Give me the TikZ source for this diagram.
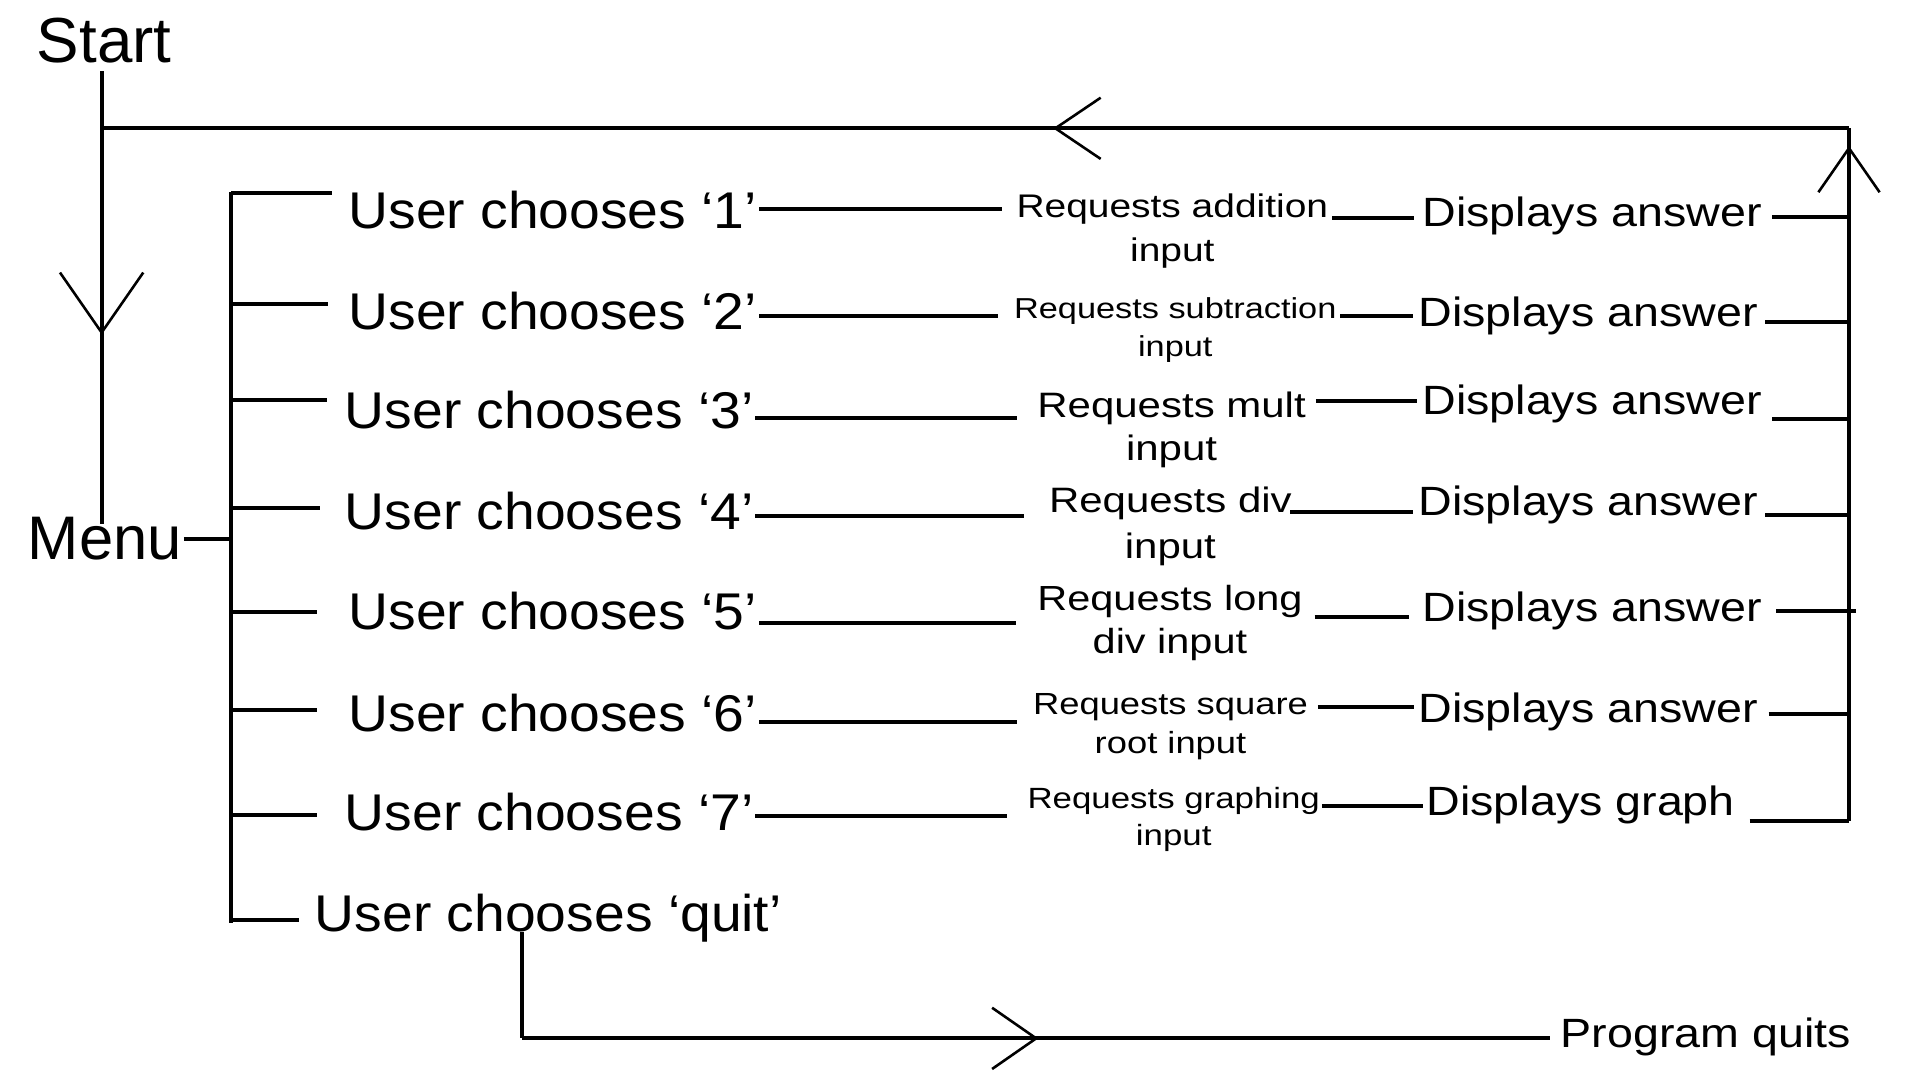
\documentclass[tikz,border=0pt]{standalone}
\usepackage{fontspec}
\setmainfont{Liberation Sans}
\newfontfamily\usrfont[FakeStretch=1.07]{Liberation Sans}
\newfontfamily\dispfont[FakeStretch=1.14]{Liberation Sans}
\newfontfamily\reqfont[FakeStretch=1.19]{Liberation Sans}
\usepackage{tikz}
\usetikzlibrary{arrows.meta}
\usetikzlibrary{calc}
\usetikzlibrary{positioning}
\usetikzlibrary{decorations.markings}

\begin{document}
\begin{tikzpicture}[line width=0.95pt]
	\tikzstyle{big}=[font=\fontsize{14.3}{16}\selectfont, inner sep=0pt]
	\tikzstyle{usr}=[font=\usrfont\fontsize{12}{14}\selectfont, inner sep=0pt, anchor=base west]
	\tikzstyle{disp}=[font=\dispfont\fontsize{9.5}{11}\selectfont, inner sep=0pt, anchor=base west]
	\tikzset{req/.style 2 args={font=\reqfont\fontsize{#1}{#2}\selectfont, align=center, inner sep=0pt, anchor=north west},
		midarrow/.style n args={3}{postaction={decorate,decoration={markings,
			mark=at position #1 with {\arrow{Straight Barb[length=#2,width=#3,line width=0.6pt]}}}}}}
	\useasboundingbox (0,0) rectangle (15.68,-8.815);

	% loop corners, bracket and exit corner
	\coordinate (tl) at (0.83,-1.048);
	\coordinate (tr) at (15.10,-1.048);
	\coordinate (br) at (15.10,-6.702);
	\coordinate (b1) at (1.887,-1.58);
	\coordinate (b2) at (1.887,-2.485);
	\coordinate (b3) at (1.887,-3.267);
	\coordinate (b4) at (1.887,-4.15);
	\coordinate (b5) at (1.887,-4.995);
	\coordinate (b6) at (1.887,-5.80);
	\coordinate (b7) at (1.887,-6.656);
	\coordinate (b8) at (1.887,-7.513);
	\coordinate (qc) at (4.265,-8.48);

	\node[big, anchor=base, font=\fontsize{14.8}{16}\selectfont] 	(start) at (0.85,-0.51) 	{Start};
	\node[big, anchor=base west] 	(menu) at (0.21,-4.573) 	{Menu};

	\node[usr] 	(u1) at (2.83,-1.87) 		{User chooses ‘1’};
	\node[usr] 	(u2) at (2.83,-2.695) 		{User chooses ‘2’};
	\node[usr] 	(u3) at (2.80,-3.50) 		{User chooses ‘3’};
	\node[usr] 	(u4) at (2.80,-4.323) 		{User chooses ‘4’};
	\node[usr] 	(u5) at (2.83,-5.145) 		{User chooses ‘5’};
	\node[usr] 	(u6) at (2.83,-5.97) 		{User chooses ‘6’};
	\node[usr] 	(u7) at (2.80,-6.784) 		{User chooses ‘7’};
	\node[usr] 	(uq) at (2.555,-7.61) 		{User chooses ‘quit’};

	\node[req={7.6}{10.2}] 	(r1) at (8.285,-1.565) 	{Requests addition\\input};
	\node[req={6.7}{8.9}] 	(r2) at (8.265,-2.41) 	{Requests subtraction\\input};
	\node[req={8.2}{9.9}] 	(r3) at (8.455,-3.185) 	{Requests mult\\input};
	\node[req={8.2}{10.7}] 	(r4) at (8.55,-3.96) 	{Requests div\\input};
	\node[req={8.1}{10.0}] 	(r5) at (8.455,-4.76) 	{Requests long\\div input};
	\node[req={7.1}{8.9}] 	(r6) at (8.42,-5.65) 	{Requests square\\root input};
	\node[req={6.8}{8.7}] 	(r7) at (8.375,-6.41) 	{Requests graphing\\input};

	\node[disp] 	(d1) at (11.60,-1.851) 		{Displays answer};
	\node[disp] 	(d2) at (11.567,-2.668) 	{Displays answer};
	\node[disp] 	(d3) at (11.60,-3.389) 		{Displays answer};
	\node[disp] 	(d4) at (11.567,-4.206) 	{Displays answer};
	\node[disp] 	(d5) at (11.60,-5.077) 		{Displays answer};
	\node[disp] 	(d6) at (11.567,-5.899) 	{Displays answer};
	\node[disp] 	(d7) at (11.634,-6.656) 	{Displays graph};
	\node[disp] 	(pq) at (12.73,-8.553) 		{Program quits};

	% main loop
	\draw[midarrow={0.582}{4.9mm}{6.8mm}] ([yshift=-0.5mm]start.south -| tl) -- ([yshift=-0.7mm]menu.north -| tl);
	\draw[midarrow={0.9746}{3.6mm}{5mm}] (br) -- (tr);
	\draw[midarrow={0.4555}{3.7mm}{5mm}] (tr) -- (tl);

	% menu and bracket
	\draw (menu.east) -- (menu.east -| b1);
	\draw[shorten <=-0.15mm, shorten >=-0.25mm] (b1) -- (b8);
	\path
		(b1) edge[shorten >=1.2mm] (b1 -| u1.west)
		(b2) edge[shorten >=1.5mm] (b2 -| u2.west)
		(b3) edge[shorten >=1.3mm] (b3 -| u3.west)
		(b4) edge[shorten >=1.9mm] (b4 -| u4.west)
		(b5) edge[shorten >=2.4mm] (b5 -| u5.west)
		(b6) edge[shorten >=2.4mm] (b6 -| u6.west)
		(b7) edge[shorten >=2.1mm] (b7 -| u7.west)
		(b8) edge[shorten >=1.15mm] (b8 -| uq.west);

	% choice to request
	\draw[shorten >=1.05mm] ([yshift=1.63mm]u1.base east) -- ([yshift=1.63mm]u1.base east -| r1.west);
	\draw[shorten >=1.12mm] ([yshift=1.15mm]u2.base east) -- ([yshift=1.15mm]u2.base east -| r2.west);
	\draw[shorten >=1.52mm] ([yshift=0.84mm]u3.base east) -- ([yshift=0.84mm]u3.base east -| r3.west);
	\draw[shorten >=1.87mm] ([yshift=1.09mm]u4.base east) -- ([yshift=1.09mm]u4.base east -| r4.west);
	\draw[shorten >=1.6mm] ([yshift=0.6mm]u5.base east) -- ([yshift=0.6mm]u5.base east -| r5.west);
	\draw[shorten >=1.17mm] ([yshift=0.71mm]u6.base east) -- ([yshift=0.71mm]u6.base east -| r6.west);
	\draw[shorten >=1.54mm] ([yshift=1.2mm]u7.base east) -- ([yshift=1.2mm]u7.base east -| r7.west);

	% request to display
	\draw[shorten <=0.15mm, shorten >=0.52mm] ([yshift=0.73mm]d1.base west -| r1.east) -- ([yshift=0.73mm]d1.base west);
	\draw[shorten <=0.16mm, shorten >=0.3mm] ([yshift=0.87mm]d2.base west -| r2.east) -- ([yshift=0.87mm]d2.base west);
	\draw[shorten <=0.65mm, shorten >=0.25mm] ([yshift=1.17mm]d3.base west -| r3.east) -- ([yshift=1.17mm]d3.base west);
	\draw[shorten <=-0.3mm, shorten >=0.3mm] ([yshift=0.27mm]d4.base west -| r4.east) -- ([yshift=0.27mm]d4.base west);
	\draw[shorten <=0.82mm, shorten >=0.91mm] ([yshift=0.36mm]d5.base west -| r5.east) -- ([yshift=0.36mm]d5.base west);
	\draw[shorten <=0.64mm, shorten >=0.19mm] ([yshift=1.28mm]d6.base west -| r6.east) -- ([yshift=1.28mm]d6.base west);
	\draw[shorten >=0.1mm] ([yshift=0.74mm]d7.base west -| r7.east) -- ([yshift=0.74mm]d7.base west);

	% display back to loop
	\draw[shorten <=0.7mm] ([yshift=0.76mm]d1.base east) -- ([yshift=0.76mm]d1.base east -| tr);
	\draw[shorten <=0.46mm] ([yshift=0.36mm]d2.base east) -- ([yshift=0.36mm]d2.base east -| tr);
	\draw[shorten <=0.7mm] ([yshift=-0.33mm]d3.base east) -- ([yshift=-0.33mm]d3.base east -| tr);
	\draw[shorten <=0.46mm] (d4.base east) -- (d4.base east -| tr);
	\draw[shorten <=1mm, shorten >=-0.55mm] ([yshift=0.9mm]d5.base east) -- ([yshift=0.9mm]d5.base east -| tr);
	\draw[shorten <=0.73mm] ([yshift=0.68mm]d6.base east) -- ([yshift=0.68mm]d6.base east -| tr);
	\draw[shorten <=1.04mm] ([yshift=-0.46mm]d7.base east) -- ([yshift=-0.46mm]d7.base east -| tr);

	% quit
	\draw (uq.base -| qc) -- (qc);
	\draw[midarrow={0.498}{3.6mm}{5mm}, shorten >=0.72mm] (qc) -- (qc -| pq.west);
\end{tikzpicture}
\end{document}
